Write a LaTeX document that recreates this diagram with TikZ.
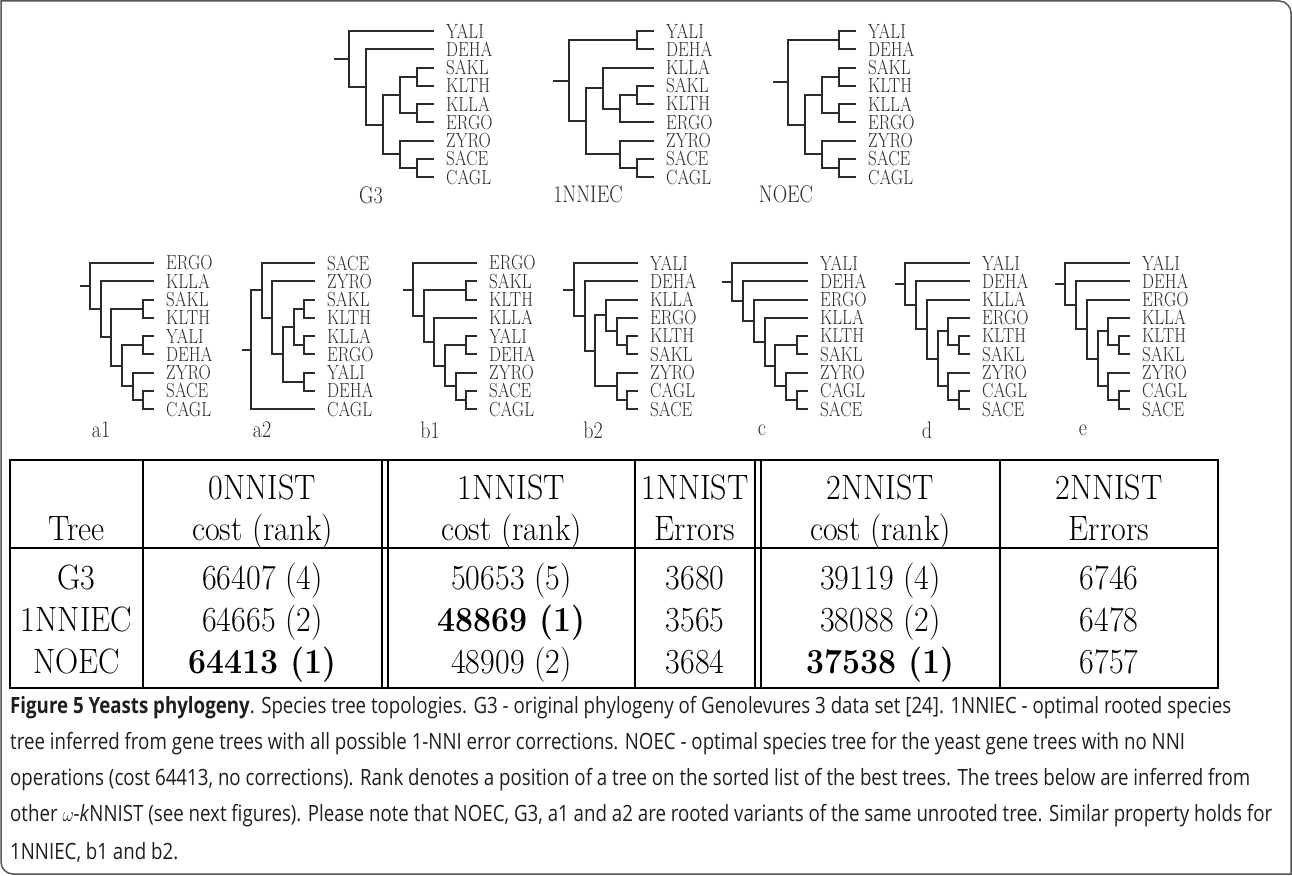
\documentclass[tikz,border=0pt]{standalone}
\usepackage{fontspec}
\newfontfamily\capfont{Open Sans}
\usetikzlibrary{calc}
\definecolor{TreeLine}{HTML}{2B2B2B}
\definecolor{FrameGray}{HTML}{555555}
\definecolor{CapText}{HTML}{1E1E1E}
\newcommand{\vs}[2][1.2]{\scalebox{1}[#1]{#2}}
% clade: name, x of the split, upper child, lower child
\newcommand{\clade}[4]{%
  \path ($(#3.center)!.5!(#4.center)$) coordinate (#1-m);
  \coordinate (#1) at (#2,0 |- #1-m);
  \draw[branch] (#1) |- (#3) (#1) |- (#4);}
\tikzset{
  branch/.style={draw=TreeLine,line width=2pt},
  leaf/.style={anchor=west,inner xsep=12pt,inner ysep=0pt,text=TreeLine,
               font=\fontsize{17}{17}\selectfont},
  treename/.style={text=TreeLine,inner sep=0pt,font=\fontsize{20}{20}\selectfont},
  cell/.style={anchor=base,inner sep=0pt,font=\fontsize{32}{32}\selectfont},
  tabline/.style={draw=black,line width=1.6pt},
  capline/.style={anchor=west,inner sep=0pt,text=CapText,
                  font=\capfont\fontsize{18.7}{22}\selectfont},
  frame/.style={draw=FrameGray,line width=1.5pt}
}
\begin{document}
\begin{tikzpicture}[x=1pt,y=-1pt]
  \useasboundingbox (0,0) rectangle (1292,875);
  \draw[frame] (1,437) -- (1,1) -- (640,1) [rounded corners=12pt] -- (1291,1)
    -- (1291,437) [sharp corners] -- (1291,874) -- (640,874) [rounded corners=12pt]
    -- (1,874) -- (1,437) [sharp corners] -- cycle;

  % G3
  \foreach \s [count=\i] in {YALI,DEHA,SAKL,KLTH,KLLA,ERGO,ZYRO,SACE,CAGL}
    \node[leaf] (g3-\i) at (434,{31+18.25*(\i-1)}) {\vs{\s}};
  \clade{g3a}{417}{g3-3}{g3-4}
  \clade{g3b}{417}{g3-5}{g3-6}
  \clade{g3c}{400}{g3a}{g3b}
  \clade{g3d}{417}{g3-8}{g3-9}
  \clade{g3e}{400}{g3-7}{g3d}
  \clade{g3f}{383}{g3c}{g3e}
  \clade{g3g}{366}{g3-2}{g3f}
  \clade{g3r}{349}{g3-1}{g3g}
  \draw[branch] (g3r) -- ++(-15,0);
  \node[treename] (g3name) at (371,195) {\vs{G3}};

  % 1NNIEC
  \foreach \s [count=\i] in {YALI,DEHA,KLLA,SAKL,KLTH,ERGO,ZYRO,SACE,CAGL}
    \node[leaf] (n-\i) at (654,{31+18.25*(\i-1)}) {\vs{\s}};
  \clade{na}{637}{n-1}{n-2}
  \clade{nb}{637}{n-4}{n-5}
  \clade{nc}{620}{nb}{n-6}
  \clade{nd}{603}{n-3}{nc}
  \clade{ne}{637}{n-8}{n-9}
  \clade{nf}{620}{n-7}{ne}
  \clade{ng}{586}{nd}{nf}
  \clade{nr}{569}{na}{ng}
  \draw[branch] (nr) -- ++(-16,0);
  \node[treename] (nname) at (588,194) {\vs{1NNIEC}};

  % NOEC
  \foreach \s [count=\i] in {YALI,DEHA,SAKL,KLTH,KLLA,ERGO,ZYRO,SACE,CAGL}
    \node[leaf] (o-\i) at (856,{31+18.25*(\i-1)}) {\vs{\s}};
  \clade{oa}{839}{o-1}{o-2}
  \clade{ob}{839}{o-3}{o-4}
  \clade{oc}{839}{o-5}{o-6}
  \clade{od}{822}{ob}{oc}
  \clade{oe}{839}{o-8}{o-9}
  \clade{of}{822}{o-7}{oe}
  \clade{og}{805}{od}{of}
  \clade{or}{788}{oa}{og}
  \draw[branch] (or) -- ++(-15,0);
  \node[treename] (oname) at (786,194) {\vs{NOEC}};

  % a1
  \foreach \s [count=\i] in {ERGO,KLLA,SAKL,KLTH,YALI,DEHA,ZYRO,SACE,CAGL}
    \node[leaf] (a1-\i) at (154,{263+18.25*(\i-1)}) {\vs{\s}};
  \clade{a1a}{143.3}{a1-3}{a1-4}
  \clade{a1b}{143.3}{a1-5}{a1-6}
  \clade{a1c}{143.3}{a1-8}{a1-9}
  \clade{a1d}{132.6}{a1-7}{a1c}
  \clade{a1e}{121.9}{a1b}{a1d}
  \clade{a1f}{111.2}{a1a}{a1e}
  \clade{a1g}{100.5}{a1-2}{a1f}
  \clade{a1r}{89.8}{a1-1}{a1g}
  \draw[branch] (a1r) -- ++(-10,0);
  \node[treename] (a1name) at (101,430) {\vs{a1}};

  % a2
  \foreach \s [count=\i] in {SACE,ZYRO,SAKL,KLTH,KLLA,ERGO,YALI,DEHA,CAGL}
    \node[leaf] (a2-\i) at (315,{263+18.25*(\i-1)}) {\vs{\s}};
  \clade{a2a}{304.3}{a2-3}{a2-4}
  \clade{a2b}{304.3}{a2-5}{a2-6}
  \clade{a2c}{293.7}{a2a}{a2b}
  \clade{a2d}{304.3}{a2-7}{a2-8}
  \clade{a2e}{283}{a2c}{a2d}
  \clade{a2f}{272.3}{a2-2}{a2e}
  \clade{a2g}{261.7}{a2-1}{a2f}
  \clade{a2r}{251}{a2g}{a2-9}
  \draw[branch] (a2r) -- ++(-9,0);
  \node[treename] (a2name) at (262,430) {\vs{a2}};

  % b1
  \foreach \s [count=\i] in {ERGO,SAKL,KLTH,KLLA,YALI,DEHA,ZYRO,SACE,CAGL}
    \node[leaf] (b1-\i) at (477,{263+18.25*(\i-1)}) {\vs{\s}};
  \clade{b1a}{466.3}{b1-2}{b1-3}
  \clade{b1b}{466.3}{b1-5}{b1-6}
  \clade{b1c}{466.3}{b1-8}{b1-9}
  \clade{b1d}{455.7}{b1-7}{b1c}
  \clade{b1e}{445}{b1b}{b1d}
  \clade{b1f}{434.3}{b1-4}{b1e}
  \clade{b1g}{423.7}{b1a}{b1f}
  \clade{b1r}{413}{b1-1}{b1g}
  \draw[branch] (b1r) -- ++(-10,0);
  \node[treename] (b1name) at (430,430) {\vs{b1}};

  % b2
  \foreach \s [count=\i] in {YALI,DEHA,KLLA,ERGO,KLTH,SAKL,ZYRO,CAGL,SACE}
    \node[leaf] (b2-\i) at (638,{263+18.25*(\i-1)}) {\vs{\s}};
  \clade{b2a}{627.3}{b2-5}{b2-6}
  \clade{b2b}{616.7}{b2-4}{b2a}
  \clade{b2c}{606}{b2-3}{b2b}
  \clade{b2d}{627.3}{b2-8}{b2-9}
  \clade{b2e}{616.7}{b2-7}{b2d}
  \clade{b2f}{595.3}{b2c}{b2e}
  \clade{b2g}{584.7}{b2-2}{b2f}
  \clade{b2r}{574}{b2-1}{b2g}
  \draw[branch] (b2r) -- ++(-11,0);
  \node[treename] (b2name) at (593,430) {\vs{b2}};

  % c
  \foreach \s [count=\i] in {YALI,DEHA,ERGO,KLLA,KLTH,SAKL,ZYRO,CAGL,SACE}
    \node[leaf] (c-\i) at (808,{263+18.25*(\i-1)}) {\vs{\s}};
  \clade{ca}{797.1}{c-5}{c-6}
  \clade{cb}{797.1}{c-8}{c-9}
  \clade{cc}{786.3}{c-7}{cb}
  \clade{cd}{775.4}{ca}{cc}
  \clade{ce}{764.6}{c-4}{cd}
  \clade{cf}{753.7}{c-3}{ce}
  \clade{cg}{742.9}{c-2}{cf}
  \clade{cr}{732}{c-1}{cg}
  \draw[branch] (cr) -- ++(-10,0);
  \node[treename] (cname) at (762,430) {\vs{c}};

  % d
  \foreach \s [count=\i] in {YALI,DEHA,KLLA,ERGO,KLTH,SAKL,ZYRO,CAGL,SACE}
    \node[leaf] (d-\i) at (970,{263+18.25*(\i-1)}) {\vs{\s}};
  \clade{da}{959.2}{d-5}{d-6}
  \clade{db}{948.3}{d-4}{da}
  \clade{dc}{959.2}{d-8}{d-9}
  \clade{dd}{948.3}{d-7}{dc}
  \clade{de}{937.5}{db}{dd}
  \clade{df}{926.7}{d-3}{de}
  \clade{dg}{915.8}{d-2}{df}
  \clade{dr}{905}{d-1}{dg}
  \draw[branch] (dr) -- ++(-10,0);
  \node[treename] (dname) at (927,430) {\vs{d}};

  % e
  \foreach \s [count=\i] in {YALI,DEHA,ERGO,KLLA,KLTH,SAKL,ZYRO,CAGL,SACE}
    \node[leaf] (e-\i) at (1130,{263+18.25*(\i-1)}) {\vs{\s}};
  \clade{ea}{1119.2}{e-5}{e-6}
  \clade{eb}{1108.3}{e-4}{ea}
  \clade{ec}{1119.2}{e-8}{e-9}
  \clade{ed}{1108.3}{e-7}{ec}
  \clade{ee}{1097.5}{eb}{ed}
  \clade{ef}{1086.7}{e-3}{ee}
  \clade{eg}{1075.8}{e-2}{ef}
  \clade{er}{1065}{e-1}{eg}
  \draw[branch] (er) -- ++(-10,0);
  \node[treename] (ename) at (1083,430) {\vs{e}};

  % table
  \draw[tabline] (10,460) rectangle (1218,688);
  \draw[tabline] (10,548) -- (1218,548);
  \foreach \x in {143,382,388,635,755,761,1000}
    \draw[tabline] (\x,460) -- (\x,688);
  \foreach \x/\t [count=\i] in {262.5/0NNIST,511.5/1NNIST,695/1NNIST,880.5/2NNIST,1109/2NNIST}
    \node[cell] (h1-\i) at (\x,499) {\vs[1.1]{\t}};
  \foreach \x/\t [count=\i] in {76.5/Tree,262.5/cost (rank),511.5/cost (rank),695/Errors,880.5/cost (rank),1109/Errors}
    \node[cell] (h2-\i) at (\x,540) {\vs[1.1]{\t}};
  \foreach \y/\r/\p/\q/\e/\u/\f [count=\j] in {
      589/G3/66407 (4)/50653 (5)/3680/39119 (4)/6746,
      631/1NNIEC/64665 (2)/\textbf{48869 (1)}/3565/38088 (2)/6478,
      673/NOEC/\textbf{64413 (1)}/48909 (2)/3684/\textbf{37538 (1)}/6757}{
    \node[cell] (r\j-1) at (76.5,\y) {\vs[1.1]{\r}};
    \node[cell] (r\j-2) at (262.5,\y) {\vs[1.1]{\p}};
    \node[cell] (r\j-3) at (511.5,\y) {\vs[1.1]{\q}};
    \node[cell] (r\j-4) at (695,\y) {\vs[1.1]{\e}};
    \node[cell] (r\j-5) at (880.5,\y) {\vs[1.1]{\u}};
    \node[cell] (r\j-6) at (1109,\y) {\vs[1.1]{\f}};
  }

  % caption
  \node[capline] (cap1) at (10,708) {\vs{\textbf{Figure 5 Yeasts phylogeny}. Species tree topologies. G3 - original phylogeny of Genolevures 3 data set [24]. 1NNIEC - optimal rooted species}};
  \node[capline] (cap2) at (10,744) {\vs{tree inferred from gene trees with all possible 1-NNI error corrections. NOEC - optimal species tree for the yeast gene trees with no NNI}};
  \node[capline] (cap3) at (10,780) {\vs{operations (cost 64413, no corrections). Rank denotes a position of a tree on the sorted list of the best trees. The trees below are inferred from}};
  \node[capline] (cap4) at (10,816) {\vs{other $\omega$-\textit{k}NNIST (see next figures). Please note that NOEC, G3, a1 and a2 are rooted variants of the same unrooted tree. Similar property holds for}};
  \node[capline] (cap5) at (10,852) {\vs{1NNIEC, b1 and b2.}};
\end{tikzpicture}
\end{document}
